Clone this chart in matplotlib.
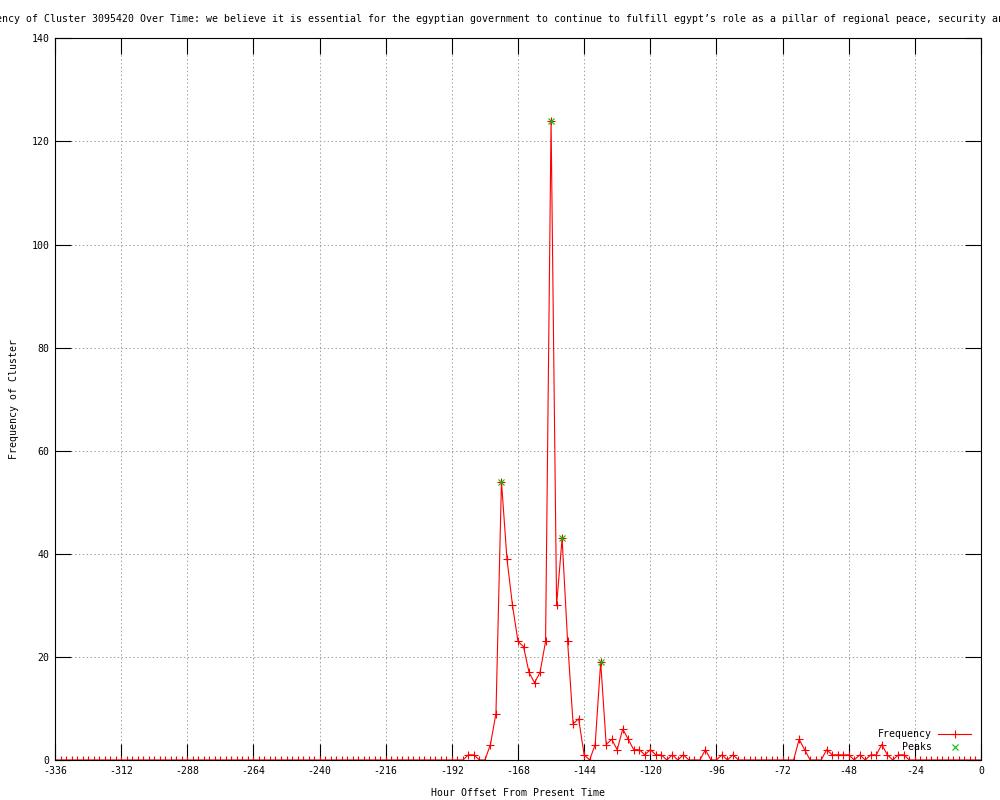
import matplotlib
matplotlib.use("Agg")
import matplotlib.pyplot as plt

plt.rcParams['font.family'] = ['DejaVu Sans Mono']
plt.rcParams['axes.unicode_minus'] = False

# hour offsets, one point every 2 hours
hours = list(range(-336, 1, 2))
freq = [
    0, 0, 0, 0, 0, 0, 0, 0, 0, 0,        # -336 .. -318
    0, 0, 0, 0, 0, 0, 0, 0, 0, 0,        # -316 .. -298
    0, 0, 0, 0, 0, 0, 0, 0, 0, 0,        # -296 .. -278
    0, 0, 0, 0, 0, 0, 0, 0, 0, 0,        # -276 .. -258
    0, 0, 0, 0, 0, 0, 0, 0, 0, 0,        # -256 .. -238
    0, 0, 0, 0, 0, 0, 0, 0, 0, 0,        # -236 .. -218
    0, 0, 0, 0, 0, 0, 0, 0, 0, 0,        # -216 .. -198
    0, 0, 0, 0, 0, 1, 1, 0, 0, 3,        # -196 .. -178
    9, 54, 39, 30, 23, 22, 17, 15, 17, 23,   # -176 .. -158
    124, 30, 43, 23, 7, 8, 1, 0, 3, 19,  # -156 .. -138
    3, 4, 2, 6, 4, 2, 2, 1, 2, 1,        # -136 .. -118
    1, 0, 1, 0, 1, 0, 0, 0, 2, 0,        # -116 .. -98
    0, 1, 0, 1, 0, 0, 0, 0, 0, 0,        # -96 .. -78
    0, 0, 0, 0, 0, 4, 2, 0, 0, 0,        # -76 .. -58
    2, 1, 1, 1, 1, 0, 1, 0, 1, 1,        # -56 .. -38
    3, 1, 0, 1, 1, 0, 0, 0, 0, 0,        # -36 .. -18
    0, 0, 0, 0, 0, 0, 0, 0, 0,           # -16 .. 0
]
peak_hours = [-174, -156, -152, -138]
peak_vals = [54, 124, 43, 19]

title = ("Frequency of Cluster 3095420 Over Time: we believe it is essential for the "
         "egyptian government to continue to fulfill egypt\u2019s role as a pillar of "
         "regional peace, security and stability")

fig = plt.figure(figsize=(10, 8), dpi=100)
ax = fig.add_axes([0.055, 0.05, 0.926, 0.902])

fs = 7.1
ax.plot(hours, freq, color='#ff0000', lw=0.8, marker='+', ms=6, mew=0.8, label='Frequency')
ax.plot(peak_hours, peak_vals, ls='none', color='#00c000', marker='x', ms=5, mew=0.8, label='Peaks')

ax.set_xlim(-336, 0)
ax.set_ylim(0, 140)
ax.set_xticks(range(-336, 1, 24))
ax.set_yticks(range(0, 141, 20))
ax.tick_params(direction='in', length=11.5, width=0.8, top=True, right=True,
               labelsize=fs, pad=4, colors='black')
for s in ax.spines.values():
    s.set_linewidth(0.8)
ax.grid(True, color='#a0a0a0', lw=0.7, ls=(0, (1.5, 2.5)))
ax.set_axisbelow(True)

ax.set_title(title, fontsize=fs, pad=12)
ax.set_xlabel('Hour Offset From Present Time', fontsize=fs, labelpad=9)
ax.set_ylabel('Frequency of Cluster', fontsize=fs, labelpad=9)

ax.legend(loc='lower right', bbox_to_anchor=((971 - 55) / 926, 8 / 722),
          frameon=False, markerfirst=False, fontsize=fs, borderpad=0,
          borderaxespad=0, handlelength=3.3, handletextpad=0.7, labelspacing=0.3)

fig.savefig('out.png', dpi=100)
